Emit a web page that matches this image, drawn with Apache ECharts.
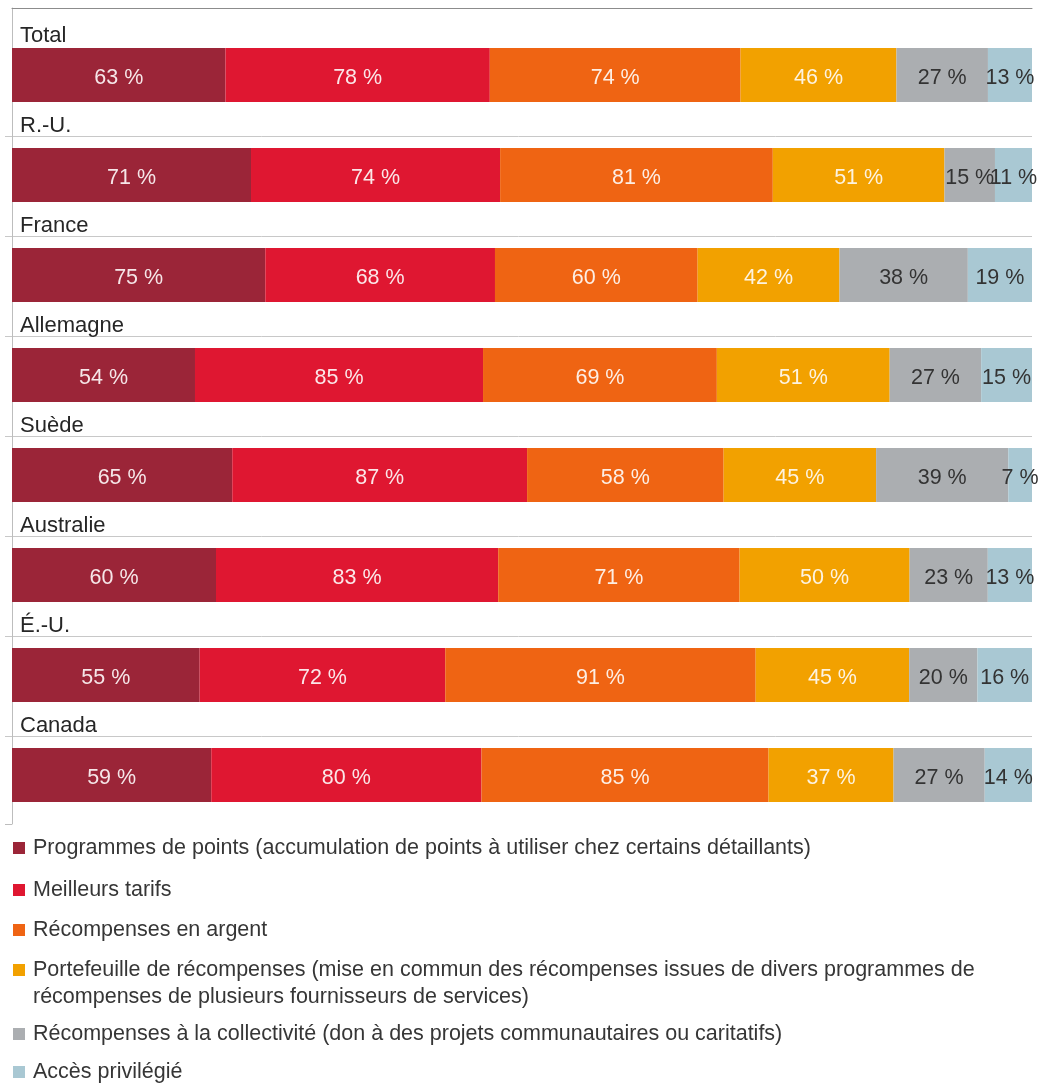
<!DOCTYPE html>
<html>
<head>
<meta charset="utf-8">
<script src="https://cdn.jsdelivr.net/npm/echarts@6/dist/echarts.min.js"></script>
<style>
  html, body { margin: 0; padding: 0; background: #ffffff; }
  #chart { width: 1044px; height: 1084px; }
</style>
</head>
<body>
<div id="chart"></div>
<script>
// Markets, top to bottom
const categories = ['Total', 'R.-U.', 'France', 'Allemagne', 'Suède', 'Australie', 'É.-U.', 'Canada'];

// Share of respondents (%) per reward type, one value per market
const points       = [63, 71, 75, 54, 65, 60, 55, 59];
const tarifs       = [78, 74, 68, 85, 87, 83, 72, 80];
const argent       = [74, 81, 60, 69, 58, 71, 91, 85];
const portefeuille = [46, 51, 42, 51, 45, 50, 45, 37];
const collectivite = [27, 15, 38, 27, 39, 23, 20, 27];
const acces        = [13, 11, 19, 15,  7, 13, 16, 14];

const seriesNames = [
  'Programmes de points (accumulation de points à utiliser chez certains détaillants)',
  'Meilleurs tarifs',
  'Récompenses en argent',
  'Portefeuille de récompenses (mise en commun des récompenses issues de divers programmes de récompenses de plusieurs fournisseurs de services)',
  'Récompenses à la collectivité (don à des projets communautaires ou caritatifs)',
  'Accès privilégié'
];
// Legend text; the long entry is broken over two lines (the leading blank
// line keeps the first text line level with the colour square)
const legendTexts = [
  seriesNames[0],
  seriesNames[1],
  seriesNames[2],
  '\nPortefeuille de récompenses (mise en commun des récompenses issues de divers programmes de\nrécompenses de plusieurs fournisseurs de services)',
  seriesNames[4],
  seriesNames[5]
];

const allValues = [points, tarifs, argent, portefeuille, collectivite, acces];
const colors = ['#9b2538', '#df1731', '#ef6413', '#f2a100', '#abaeb1', '#a9c8d3'];
const labelColors = ['#f6e6e8', '#fbe6e8', '#fdeee4', '#fdf3e0', '#333333', '#333333'];

const FONT = '"Liberation Sans", Arial, sans-serif';

// Each bar fills the full width: segments are scaled to the market's total
const totals = categories.map((_, i) => allValues.reduce((s, arr) => s + arr[i], 0));

const barSeries = allValues.map((vals, k) => ({
  name: seriesNames[k],
  type: 'bar',
  stack: 'all',
  xAxisIndex: 0,
  yAxisIndex: 0,
  barWidth: 54,
  itemStyle: { color: colors[k] },
  label: {
    show: true,
    position: 'inside',
    offset: [0, 3],
    color: labelColors[k],
    fontFamily: FONT,
    fontSize: 21.5,
    formatter: p => vals[p.dataIndex] + ' %'
  },
  emphasis: { disabled: true },
  data: vals.map((v, i) => v / totals[i] * 100)
}));

// Legend rows, each placed under the previous one
const legendTops = [834.5, 876.5, 916.5, 929.5, 1020.5, 1058.5];
const legends = seriesNames.map((name, k) => ({
  data: [name],
  orient: 'vertical',
  left: 13,
  top: legendTops[k],
  padding: 0,
  icon: 'rect',
  itemWidth: 12,
  itemHeight: 12,
  selectedMode: false,
  formatter: () => legendTexts[k],
  textStyle: {
    fontFamily: FONT,
    fontSize: 21.5,
    color: '#363636',
    lineHeight: 27,
    padding: [0, 0, 0, 3]
  }
}));

const chart = echarts.init(document.getElementById('chart'), null, { renderer: 'canvas' });

chart.setOption({
  animation: false,
  backgroundColor: '#ffffff',
  legend: legends,
  grid: [
    // bars
    { left: 12, right: 12, top: 25, height: 800 },
    // separators between markets
    { left: 5, right: 12, top: 36, height: 800 },
    // outer frame: top rule and left axis
    { left: 12, right: 12, top: 8, height: 816 }
  ],
  xAxis: [
    { gridIndex: 0, type: 'value', min: 0, max: 100, show: false },
    { gridIndex: 1, type: 'value', min: 0, max: 1, show: false },
    {
      gridIndex: 2, type: 'value', min: 0, max: 1, position: 'top',
      axisLine: { show: true, onZero: false, lineStyle: { color: '#8c8c8c', width: 1 } },
      axisTick: { show: false }, axisLabel: { show: false }, splitLine: { show: false }
    }
  ],
  yAxis: [
    {
      gridIndex: 0, type: 'category', data: categories, inverse: true,
      axisLine: { show: false }, axisTick: { show: false }, splitLine: { show: false },
      axisLabel: {
        inside: true,
        margin: 8,
        verticalAlign: 'bottom',
        padding: [0, 0, 27, 0],
        formatter: (v, i) => (i === 0 ? '{first|' : '{rest|') + v + '}',
        rich: {
          first: { fontFamily: FONT, fontSize: 22, color: '#262626', lineHeight: 24 },
          rest: { fontFamily: FONT, fontSize: 22, color: '#262626', lineHeight: 45 }
        }
      },
      z: 5
    },
    {
      gridIndex: 1, type: 'category', data: categories, inverse: true,
      axisLine: { show: false }, axisTick: { show: false }, axisLabel: { show: false },
      splitLine: {
        show: true, showMinLine: false, showMaxLine: false,
        lineStyle: { color: '#c8c8c8', width: 1 }
      }
    },
    {
      gridIndex: 2, type: 'value', min: 0, max: 1,
      axisLine: { show: true, onZero: false, lineStyle: { color: '#bdbdbd', width: 1 } },
      axisTick: { show: true, length: 7, customValues: [0], lineStyle: { color: '#bdbdbd' } },
      axisLabel: { show: false },
      splitLine: { show: false }
    }
  ],
  series: barSeries
});
</script>
</body>
</html>
